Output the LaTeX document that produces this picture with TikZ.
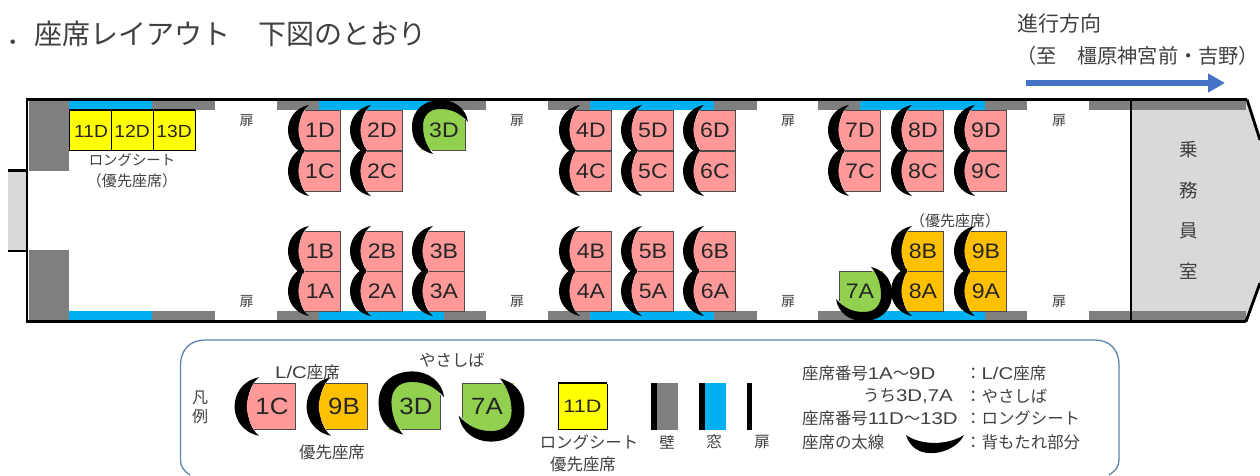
\documentclass[tikz,border=0pt]{standalone}
\usepackage{fontspec}
\usetikzlibrary{arrows.meta}
\setmainfont{Liberation Sans}
\newfontfamily\jp{Noto Sans CJK JP}
\newfontfamily\wl[FakeStretch=1.1]{Liberation Sans}
\newfontfamily\wn[FakeStretch=1.2]{Liberation Sans}
\definecolor{wallgray}{HTML}{7F7F7F}
\definecolor{winblue}{HTML}{00B0F0}
\definecolor{seatpink}{HTML}{FF9999}
\definecolor{seatorange}{HTML}{FFC000}
\definecolor{seatgreen}{HTML}{92D050}
\definecolor{seatyellow}{HTML}{FFFF00}
\definecolor{cabgray}{HTML}{D9D9D9}
\definecolor{txt}{HTML}{404040}
\definecolor{framebl}{HTML}{5B84AC}
\definecolor{arrowbl}{HTML}{4472C4}
% px -> TeX size: 1px = 0.03cm = 0.8536pt
\newcommand\pxfont[1]{\fontsize{\fpeval{#1*0.8536}pt}{\fpeval{#1*1.0}pt}\selectfont}
\newcommand\lat[1]{{\wn\fontsize{\fpeval{17*0.8536}pt}{17pt}\selectfont #1}}
\tikzset{
  x=0.03cm,y=-0.03cm,
  wall/.style={fill=wallgray,draw=none},
  win/.style={fill=winblue,draw=none},
  seatedge/.style={draw=black!70,line width=0.7pt},
  seatlabel/.style={inner sep=0pt,text=black!85,font=\wl\pxfont{21}},
  longlabel/.style={inner sep=0pt,text=black!85,font=\wl\pxfont{17.5}},
  jt/.style={inner sep=0pt,text=txt,font=\jp\pxfont{#1}},
  jt/.default=16.4
}
% straight seat: #1 name, #2 cx, #3 cy, #4 colour, #5 label, #6 scale, #7 label size
\newcommand\seatbody[7]{%
  \begin{scope}[shift={(#2,#3)},scale=#6]
    \fill[#4] (-15.5,-20) -- (20,-20) -- (20,20) -- (-15.5,20)
      .. controls (-19,13) and (-21.6,6) .. (-21.6,0)
      .. controls (-21.6,-6) and (-19,-13) .. (-15.5,-20) -- cycle;
    \draw[seatedge] (-15,-20) -- (20,-20) -- (20,20) -- (-15,20);
  \end{scope}
  \node[seatlabel] (#1) at (#2,#3) {\pxfont{#7}#5};
}
\newcommand\seatback[3]{%
  \begin{scope}[shift={(#1,#2)},scale=#3]
    \fill[black] (-11,-25) .. controls (-26,-22) and (-32,-10) .. (-32,0)
      .. controls (-32,10) and (-26,22) .. (-11,25)
      .. controls (-18,20) and (-21,9) .. (-21,0)
      .. controls (-21,-9) and (-18,-20) .. (-11,-25) -- cycle;
  \end{scope}}
% priority (gentle) seat: #1 name, #2 cx, #3 cy, #4 label, #5 scale, #6 rotation, #7 label size
\newcommand\gentle[7]{%
  \begin{scope}[shift={(#2,#3)},scale=#5,rotate=#6]
    \fill[seatgreen] (-23,20) -- (-23,-8) .. controls (-23,-18) and (-15,-23) .. (-5,-23)
      -- (10,-23) -- (21,-10) -- (21,20) -- cycle;
    \draw[seatedge] (21,-10) -- (21,20) -- (-12,20);
    \fill[black] (-11,24) .. controls (-26,20) and (-32,10) .. (-32,-3)
      .. controls (-32,-20) and (-20,-30) .. (-3,-30)
      .. controls (10,-30) and (22,-22) .. (24,-8)
      .. controls (16,-17) and (8,-21) .. (-4,-21)
      .. controls (-15,-21) and (-21,-14) .. (-21,-4)
      .. controls (-21,6) and (-18,16) .. (-11,24) -- cycle;
  \end{scope}
  \node[seatlabel] (#1) at (#2,#3) {\pxfont{#7}#4};
}
\begin{document}
\begin{tikzpicture}
\useasboundingbox (0,0) rectangle (1260,475);
% title
\node[jt=28,anchor=west] (title) at (6,34) {．座席レイアウト　下図のとおり};
\node[jt=21,anchor=west] (dir1) at (1017,24) {進行方向};
\node[jt=20.2,anchor=west] (dir2) at (1016.5,56) {（至　橿原神宮前・吉野）};
\coordinate (arrA) at (1026,83);
\coordinate (arrB) at (1225,83);
\draw[arrowbl,line width=5.2pt,-{Triangle[length=14.5pt,width=15.4pt]}] (arrA) -- (arrB);
% cab + body
\fill[cabgray] (1131,99.5) -- (1247,99.5) -- (1260,140) -- (1260,283) -- (1246,321.5) -- (1131,321.5) -- cycle;
\fill[cabgray] (8,171) rectangle (27,250);
\fill[wall] (29,101) rectangle (69,171);
\fill[wall] (29,250) rectangle (69,320);
% top strips, then bottom strips
\foreach \a/\b/\k in {69/152/win,152/215/wall,277/319/wall,319/444/win,444/486/wall,548/590/wall,590/714/win,714/757/wall,818/860/wall,860/985/win,985/1027/wall,1089/1131/wall,1131/1246/wall}{
  \path[\k] (\a,101) rectangle (\b,110);
  \path[\k] (\a,311) rectangle (\b,320);
}
\draw[black,line width=2.4pt] (1247,99.5) -- (27,99.5) -- (27,321.5) -- (1246,321.5);
\draw[black,line width=2.4pt] (1247,99.5) -- (1260,140) (1260,283) -- (1246,321.5);
\draw[black,line width=2pt] (1131,99.5) -- (1131,321.5);
\draw[black,line width=2pt] (8,170.5) -- (27,170.5) (8,251) -- (27,251);
% door marks
\foreach \n/\x/\y in {da/246.5/120.5,db/517/120.5,dc/788/120.5,dd/1059/120.5,de/246.5/301.5,df/517/301.5,dg/788/301.5,dh/1059/301.5}{
  \node[jt=14] (\n) at (\x,\y) {扉};
}
% cab text
\node[jt=18.5] (c1) at (1189,150) {乗};
\node[jt=18.5] (c2) at (1189,190) {務};
\node[jt=18.5] (c3) at (1189,231) {員};
\node[jt=18.5] (c4) at (1189,271) {室};
% long seats
\fill[seatyellow] (69,110.5) rectangle (195,150);
\draw[black,line width=0.8pt] (69,150) -- (195,150) -- (195,110) (69,110) -- (69,150) (111,110) -- (111,150) (153,110) -- (153,150);
\draw[black,line width=2.3pt] (69,110) -- (195,110);
\node[longlabel] (s11) at (91,131) {11D};
\node[longlabel] (s12) at (132,131) {12D};
\node[longlabel] (s13) at (174,131) {13D};
\node[jt=14.4] (ls1) at (132,160) {ロングシート};
\node[jt=15] (ls2) at (132,181) {（優先座席）};
% seats: backs first, bodies over them so that paired backs merge
\foreach \x/\y in {320/130,320/171,382/130,382/171,320/251,320/291,382/251,382/291,444/251,444/291,
 591/130,591/171,653/130,653/171,715/130,715/171,591/251,591/291,653/251,653/291,715/251,715/291,
 860/130,860/171,923/130,923/171,986/130,986/171,923/251,923/291,986/251,986/291}{
  \seatback{\x}{\y}{1}
}
\foreach \n/\x/\y/\c in {
 1D/320/130/seatpink,1C/320/171/seatpink,2D/382/130/seatpink,2C/382/171/seatpink,
 1B/320/251/seatpink,1A/320/291/seatpink,2B/382/251/seatpink,2A/382/291/seatpink,3B/444/251/seatpink,3A/444/291/seatpink,
 4D/591/130/seatpink,4C/591/171/seatpink,5D/653/130/seatpink,5C/653/171/seatpink,6D/715/130/seatpink,6C/715/171/seatpink,
 4B/591/251/seatpink,4A/591/291/seatpink,5B/653/251/seatpink,5A/653/291/seatpink,6B/715/251/seatpink,6A/715/291/seatpink,
 7D/860/130/seatpink,7C/860/171/seatpink,8D/923/130/seatpink,8C/923/171/seatpink,9D/986/130/seatpink,9C/986/171/seatpink,
 8B/923/251/seatorange,8A/923/291/seatorange,9B/986/251/seatorange,9A/986/291/seatorange}{
  \seatbody{s\n}{\x}{\y}{\c}{\n}{1}{21}
}
\gentle{s3D}{444}{130}{3D}{1}{0}{21}
\gentle{s7A}{860}{291}{7A}{1}{180}{21}
\node[jt=15] (pri) at (955,221) {（優先座席）};
% legend frame
\draw[framebl,line width=1.1pt] (190,475) .. controls (184,471) and (180.5,467) .. (180.5,460) -- (180.5,365)
  .. controls (180.5,350) and (190,340) .. (205,340) -- (1095,340)
  .. controls (1110,340) and (1119,350) .. (1119,365) -- (1119,460) .. controls (1119,467) and (1115,471) .. (1109,475);
\node[jt=16] (lg1) at (200,398) {凡};
\node[jt=16] (lg2) at (200,416) {例};
\seatback{272}{406.5}{1.17}
\seatbody{l1C}{272}{406.5}{seatpink}{1C}{1.17}{23.5}
\seatback{344}{406.5}{1.17}
\seatbody{l9B}{344}{406.5}{seatorange}{9B}{1.17}{23.5}
\gentle{l3D}{416}{406.5}{3D}{1.17}{0}{23.5}
\gentle{l7A}{487}{406.5}{7A}{1.17}{180}{23.5}
\node[jt] (t1) at (307.5,372) {\lat{L/C}座席};
\node[jt] (t2) at (332,452) {優先座席};
\node[jt] (t3) at (452,360) {やさしば};
% long legend
\fill[seatyellow] (558,384) rectangle (607,429.5);
\draw[black,line width=0.8pt] (558,384) -- (558,429.5) -- (607,429.5) -- (607,384);
\draw[black,line width=2.3pt] (558,383) -- (607,383);
\node[longlabel,font=\wn\pxfont{18}] (l11) at (582.5,406.5) {11D};
\node[jt] (t4) at (589,442) {ロングシート};
\node[jt] (t5) at (583,464) {優先座席};
% wall, window, door
\fill[wallgray] (656,383) rectangle (678,430);
\fill[black] (651,383) rectangle (656.5,430);
\fill[winblue] (704,383) rectangle (726,430);
\fill[black] (699,383) rectangle (704.5,430);
\fill[black] (747,383) rectangle (752,430);
\node[jt=15.5] (t6) at (667,442) {壁};
\node[jt=15.5] (t7) at (714,442) {窓};
\node[jt=15.5] (t8) at (762,442) {扉};
% notes
\node[jt,anchor=west] (n1) at (802,373) {座席番号\lat{1A}～\lat{9D}};
\node[jt,anchor=west] (n1b) at (965,373) {：\lat{L/C}座席};
\node[jt,anchor=west] (n2) at (863,396) {うち\lat{3D,7A}};
\node[jt,anchor=west] (n2b) at (965,396) {：やさしば};
\node[jt,anchor=west] (n3) at (802,418) {座席番号\lat{11D}～\lat{13D}};
\node[jt,anchor=west] (n3b) at (965,418) {：ロングシート};
\node[jt,anchor=west] (n4) at (802,442) {座席の太線};
\node[jt,anchor=west] (n4b) at (965,442) {：背もたれ部分};
\fill[black] (906,435) .. controls (918,444) and (945,447) .. (964,435)
  .. controls (958,448) and (940,454) .. (930,453) .. controls (920,453) and (910,448) .. (906,435) -- cycle;
\end{tikzpicture}
\end{document}
